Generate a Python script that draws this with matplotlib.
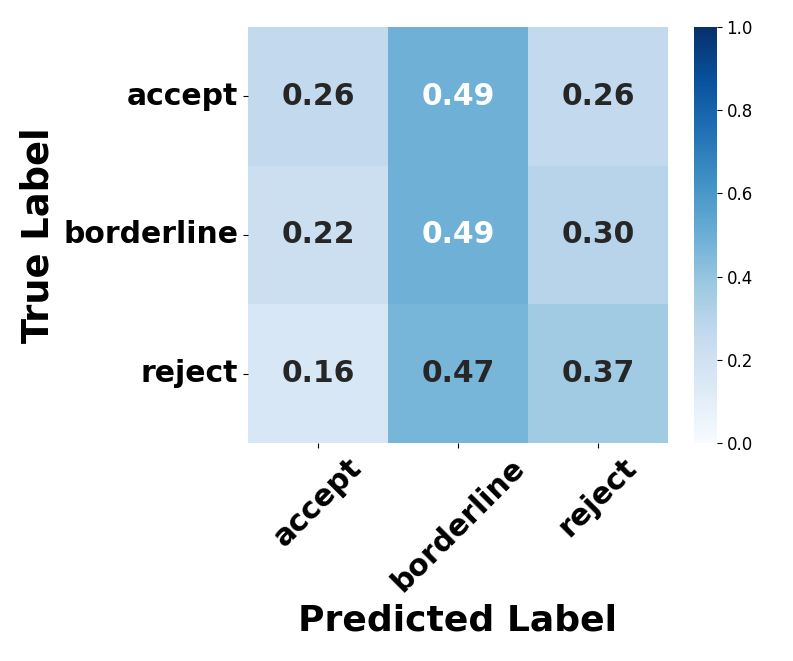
import numpy as np
import matplotlib
matplotlib.use("Agg")
import matplotlib.pyplot as plt
import seaborn as sns

labels = ["accept", "borderline", "reject"]
row_accept = [0.26, 0.49, 0.26]
row_borderline = [0.22, 0.49, 0.30]
row_reject = [0.16, 0.47, 0.37]

cm = np.array([row_accept, row_borderline, row_reject])

fig = plt.figure(figsize=(7.93, 6.61), dpi=100)
ax = fig.add_axes([0.3127, 0.330, 0.5297, 0.629])
cax = fig.add_axes([0.875, 0.330, 0.029, 0.629])

sns.heatmap(cm, ax=ax, cbar_ax=cax, cmap="Blues", vmin=0, vmax=1,
            annot=True, fmt=".2f",
            annot_kws={"size": 21.5, "weight": "bold"},
            xticklabels=labels, yticklabels=labels)

ax.set_xticklabels(labels, rotation=45, ha="center", fontsize=21.5, fontweight="bold")
ax.set_yticklabels(labels, rotation=0, fontsize=21.5, fontweight="bold")
ax.set_xlabel("Predicted Label", fontsize=26, fontweight="bold", labelpad=5)
ax.set_ylabel("True Label", fontsize=26.5, fontweight="bold", labelpad=5)
cax.tick_params(labelsize=12)

fig.savefig("out.png", dpi=100)
